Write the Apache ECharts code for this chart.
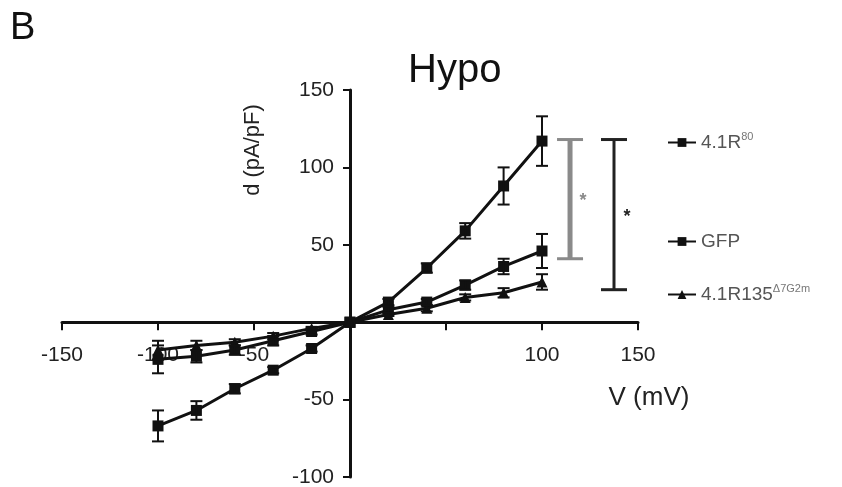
<!DOCTYPE html>
<html>
<head>
<meta charset="utf-8">
<script src="https://cdn.jsdelivr.net/npm/echarts@6/dist/echarts.min.js"></script>
<style>
	html, body { margin: 0; padding: 0; background: #fff; }
	#chart1 { width: 842px; height: 487px; }
</style>
</head>
<body>
<div id="chart1"></div>
<script>
// voltage steps (mV)
var voltages = [-100, -80, -60, -40, -20, 0, 20, 40, 60, 80, 100];
// current density (pA/pF), mean and error
var r80Mean = [-67, -57, -43, -31, -17, 0, 13, 35, 59, 88, 117];
var r80Err = [10, 6, 3, 2, 2, 0, 2, 3, 5, 12, 16];
var gfpMean = [-24, -22, -18, -12, -6, 0, 8, 13, 24, 36, 46];
var gfpErr = [9, 4, 3, 3, 2, 0, 2, 2, 3, 5, 11];
var r135Mean = [-18, -15, -13, -9, -4, 0, 5, 9, 16, 19, 26];
var r135Err = [6, 3, 2, 2, 1, 0, 1, 2, 2, 3, 5];
// significance brackets: x, top, bottom
var brackets = [[114.6, 118, 41], [137.5, 118, 21]];
var bracketColors = ['#8a8a8a', '#222'];
var xTicks = [-150, -100, -50, 100, 150];
var yTicks = [150, 100, 50, -50, -100];

var font = 'Liberation Sans, Arial, sans-serif';

// plot box
var gLeft = 62, gRight = 204, gTop = 90, gBottom = 10;
var W = 842, H = 487;
var xMin = -150, xMax = 150, yMin = -100, yMax = 150;

function pairs(mean) {
	var out = [];
	for (var i = 0; i < voltages.length; i++) {
		out.push([voltages[i], mean[i]]);
	}
	return out;
}

function errData(mean, err) {
	var out = [];
	for (var i = 0; i < voltages.length; i++) {
		if (err[i] > 0) out.push([voltages[i], mean[i] - err[i], mean[i] + err[i]]);
	}
	return out;
}

function renderErr(params, api) {
	var lo = api.coord([api.value(0), api.value(1)]);
	var hi = api.coord([api.value(0), api.value(2)]);
	var w = 6;
	var st = { stroke: '#111', lineWidth: 2 };
	return {
		type: 'group',
		children: [
			{ type: 'line', shape: { x1: hi[0], y1: hi[1], x2: lo[0], y2: lo[1] }, style: st },
			{ type: 'line', shape: { x1: hi[0] - w, y1: hi[1], x2: hi[0] + w, y2: hi[1] }, style: st },
			{ type: 'line', shape: { x1: lo[0] - w, y1: lo[1], x2: lo[0] + w, y2: lo[1] }, style: st }
		]
	};
}

function renderBracket(params, api) {
	var top = api.coord([api.value(0), api.value(1)]);
	var bot = api.coord([api.value(0), api.value(2)]);
	var c = bracketColors[params.dataIndex];
	var lw = params.dataIndex == 0 ? 5 : 3;
	var w = 13;
	return {
		type: 'group',
		children: [
			{ type: 'line', shape: { x1: top[0], y1: top[1], x2: bot[0], y2: bot[1] }, style: { stroke: c, lineWidth: lw } },
			{ type: 'line', shape: { x1: top[0] - w, y1: top[1], x2: top[0] + w, y2: top[1] }, style: { stroke: c, lineWidth: 3 } },
			{ type: 'line', shape: { x1: bot[0] - w, y1: bot[1], x2: bot[0] + w, y2: bot[1] }, style: { stroke: c, lineWidth: 3 } },
			{ type: 'text', x: top[0] + 13, y: (top[1] + bot[1]) / 2 + 2,
				style: { text: '*', fill: c, font: 'bold 18px ' + font, align: 'center', verticalAlign: 'middle' } }
		]
	};
}

function legendCfg(name, top) {
	return {
		data: [name],
		orient: 'vertical',
		left: 662,
		top: top,
		itemWidth: 28,
		itemHeight: 11,
		selectedMode: false,
		formatter: function(n) {
			if (n == '4.1R80') return '{b|4.1R}{s|80}';
			if (n == '4.1R135') return '{b|4.1R135}{s|Δ7G2m}';
			return '{b|' + n + '}';
		},
		textStyle: {
			fontFamily: font,
			rich: {
				b: { fontSize: 19, color: '#555', fontFamily: font },
				s: { fontSize: 11, color: '#777', fontFamily: font, padding: [0, 0, 12, 0] }
			}
		}
	};
}

function lineSeries(name, mean, symbol) {
	return {
		name: name,
		type: 'line',
		data: pairs(mean),
		symbol: symbol,
		symbolSize: 11,
		showSymbol: true,
		z: 3,
		lineStyle: { color: '#111', width: 3 },
		itemStyle: { color: '#111' },
		animation: false
	};
}

function errSeries(mean, err) {
	return {
		type: 'custom',
		renderItem: renderErr,
		data: errData(mean, err),
		encode: { x: 0, y: [1, 2] },
		z: 4,
		silent: true,
		animation: false
	};
}

// axes cross at zero: shift each axis inward from its grid edge
var plotW = W - gLeft - gRight, plotH = H - gTop - gBottom;
var yAxisShift = -plotW * (0 - xMin) / (xMax - xMin);
var xAxisShift = -plotH * (0 - yMin) / (yMax - yMin);

var myChart = echarts.init(document.getElementById('chart1'));
var option = {
	animation: false,
	backgroundColor: '#fff',
	title: {
		text: 'Hypo',
		left: 403,
		top: 46,
		textStyle: { fontFamily: font, fontSize: 40, fontWeight: 'normal', color: '#111' }
	},
	legend: [
		legendCfg('4.1R80', 126),
		legendCfg('GFP', 227),
		legendCfg('4.1R135', 278)
	],
	grid: {
		left: gLeft,
		right: gRight,
		top: gTop,
		bottom: gBottom,
		containLabel: false,
		outerBoundsMode: 'none'
	},
	xAxis: {
		type: 'value',
		min: xMin,
		max: xMax,
		interval: 50,
		position: 'bottom',
		offset: xAxisShift,
		axisLine: { onZero: false, lineStyle: { color: '#111', width: 3 } },
		axisTick: { length: 8, lineStyle: { color: '#111', width: 2 } },
		splitLine: { show: false },
		axisLabel: {
			margin: 23,
			fontFamily: font,
			fontSize: 21,
			color: '#222',
			formatter: function(v) { return xTicks.indexOf(v) >= 0 ? String(v) : ''; }
		}
	},
	yAxis: {
		type: 'value',
		min: yMin,
		max: yMax,
		interval: 50,
		position: 'left',
		offset: yAxisShift,
		axisLine: { show: true, onZero: false, lineStyle: { color: '#111', width: 3 } },
		axisTick: { show: true, length: 7, lineStyle: { color: '#111', width: 2 } },
		splitLine: { show: false },
		axisLabel: {
			margin: 16,
			fontFamily: font,
			fontSize: 21,
			color: '#222',
			formatter: function(v) { return yTicks.indexOf(v) >= 0 ? String(v) : ''; }
		}
	},
	graphic: [
		{ type: 'text', left: 10, top: 10, style: { text: 'B', font: '38px ' + font, fill: '#111' } },
		{ type: 'text', x: 253, y: 150, rotation: Math.PI / 2,
			style: { text: 'd (pA/pF)', font: '22px ' + font, fill: '#222', align: 'center', verticalAlign: 'middle' } },
		{ type: 'text', x: 649, y: 398,
			style: { text: 'V (mV)', font: '26px ' + font, fill: '#222', align: 'center', verticalAlign: 'middle' } }
	],
	series: [
		lineSeries('4.1R80', r80Mean, 'rect'),
		lineSeries('GFP', gfpMean, 'rect'),
		lineSeries('4.1R135', r135Mean, 'triangle'),
		errSeries(r80Mean, r80Err),
		errSeries(gfpMean, gfpErr),
		errSeries(r135Mean, r135Err),
		{
			type: 'custom',
			renderItem: renderBracket,
			data: brackets,
			encode: { x: 0, y: [1, 2] },
			silent: true,
			animation: false
		}
	]
};
myChart.setOption(option);
</script>
</body>
</html>
